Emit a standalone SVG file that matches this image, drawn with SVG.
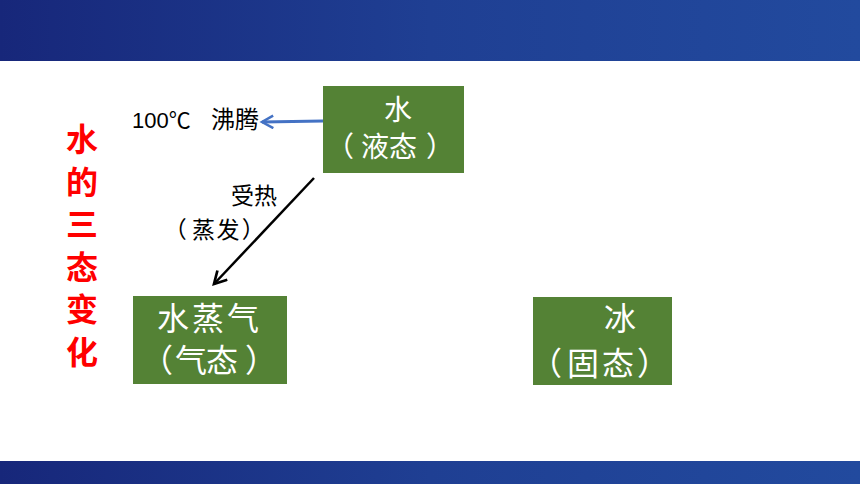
<svg xmlns="http://www.w3.org/2000/svg" width="860" height="484" viewBox="0 0 860 484">
<defs>
<linearGradient id="bar" x1="0" y1="0" x2="1" y2="0">
<stop offset="0" stop-color="#17277A"/>
<stop offset="0.5" stop-color="#1F3F93"/>
<stop offset="1" stop-color="#224A9E"/>
</linearGradient>
<marker id="ahBlue" viewBox="0 0 12 12" refX="10" refY="6" markerWidth="5" markerHeight="5" orient="auto" markerUnits="strokeWidth">
<path d="M1,1 L10,6 L1,11" fill="none" stroke="#4472C4" stroke-width="2"/>
</marker>
<marker id="ahBlack" viewBox="0 0 12 12" refX="10" refY="6" markerWidth="6.5" markerHeight="6.5" orient="auto" markerUnits="strokeWidth">
<path d="M1,1 L10,6 L1,11" fill="none" stroke="#000" stroke-width="2"/>
</marker>
</defs>
<style>
.box{fill:#548235;}
.bt{font-family:"Noto Sans CJK SC",sans-serif;fill:#fff;}
.lbl{font-family:"Liberation Sans","Noto Sans CJK SC",sans-serif;fill:#000;font-size:22px;}
.cj{font-family:"Noto Sans CJK SC",sans-serif;fill:#000;font-size:24px;}
.cj23{font-family:"Noto Sans CJK SC",sans-serif;fill:#000;font-size:23px;}
.title{font-family:"Noto Sans CJK SC",sans-serif;fill:#FF0000;font-size:32px;font-weight:bold;text-anchor:middle;}
</style>
<rect x="0" y="0" width="860" height="484" fill="#fff"/>
<rect x="0" y="0" width="860" height="61" fill="url(#bar)"/>
<rect x="0" y="461" width="860" height="23" fill="url(#bar)"/>
<g id="title">
<text class="title"><tspan x="82" y="151">水</tspan><tspan x="82" y="193.5">的</tspan><tspan x="82" y="236">三</tspan><tspan x="82" y="278.5">态</tspan><tspan x="82" y="321">变</tspan><tspan x="82" y="363.5">化</tspan></text>
</g>
<g id="connectors">
<line x1="323" y1="121" x2="262" y2="122" stroke="#4472C4" stroke-width="3" marker-end="url(#ahBlue)"/>
<line x1="314" y1="178" x2="214" y2="284" stroke="#000" stroke-width="2.5" marker-end="url(#ahBlack)"/>
<text class="lbl" x="132" y="128">100℃<tspan class="cj" x="211">沸腾</tspan></text>
<text class="cj23"><tspan x="231 254" y="204">受热</tspan><tspan x="163.75 192 216.5 241.75" y="238">（蒸发）</tspan></text>
</g>
<g id="water">
<rect class="box" x="323" y="86" width="141" height="87"/>
<text class="bt" x="384" y="120" font-size="28">水</text>
<text class="bt" x="326 361 389 426" y="157" font-size="28">（液态）</text>
</g>
<g id="vapor">
<rect class="box" x="133" y="296" width="154" height="88"/>
<text class="bt" x="157 192 227" y="330" font-size="32">水蒸气</text>
<text class="bt" x="141 175 206 245" y="372" font-size="32">（气态）</text>
</g>
<g id="ice">
<rect class="box" x="533" y="297" width="139" height="88"/>
<text class="bt" x="604" y="330" font-size="32">冰</text>
<text class="bt" x="530 567 602 637" y="375" font-size="32">（固态）</text>
</g>
</svg>
